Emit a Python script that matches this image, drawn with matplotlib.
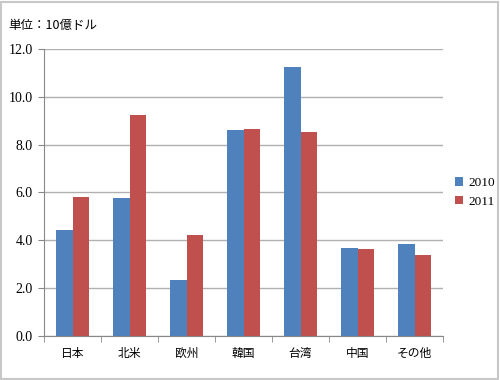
import matplotlib.pyplot as plt
import numpy as np

regions = ['日本', '北米', '欧州', '韓国', '台湾', '中国', 'その他']
v2010 = [4.43, 5.75, 2.33, 8.63, 11.25, 3.67, 3.84]
v2011 = [5.82, 9.26, 4.22, 8.66, 8.52, 3.64, 3.40]
yticks = [0, 2, 4, 6, 8, 10, 12]

jp = ['Noto Sans CJK JP', 'DejaVu Sans']
serif = ['Liberation Serif', 'DejaVu Serif']

fig = plt.figure(figsize=(5, 3.8), dpi=100)
ax = fig.add_axes([0.088, 0.116, 0.798, 0.755])

x = np.arange(len(regions))
w = 0.29
ax.bar(x - w / 2, v2010, w, color='#4f81bd', label='2010')
ax.bar(x + w / 2, v2011, w, color='#c0504d', label='2011')

ax.set_xlim(-0.5, len(regions) - 0.5)
ax.set_ylim(0, 12)
ax.set_yticks(yticks)
ax.set_yticklabels(['%.1f' % t for t in yticks], family=serif, fontsize=10)
ax.set_xticks(x)
ax.set_xticklabels(regions, family=jp, fontsize=8.5)
ax.set_xticks(np.arange(len(regions) + 1) - 0.5, minor=True)
ax.tick_params(axis='x', which='major', length=0, pad=8)
ax.tick_params(axis='x', which='minor', length=4, color='#888888')
ax.tick_params(axis='y', length=4, color='#888888', pad=4)
ax.grid(axis='y', color='#b0b0b0', linewidth=1)
ax.set_axisbelow(True)
for s in ['top', 'right']:
    ax.spines[s].set_visible(False)
ax.spines['left'].set_color('#888888')
ax.spines['bottom'].set_color('#888888')

leg = ax.legend(loc='center left', bbox_to_anchor=(1.0, 0.5), frameon=False,
                prop={'family': serif, 'size': 9.5}, handlelength=0.6,
                handleheight=0.6, handletextpad=0.4, labelspacing=0.5)

fig.text(0.016, 0.925, '単位：10億ドル', family=jp, fontsize=9)
fig.patches.append(plt.Rectangle((0.002, 0.003), 0.994, 0.993, transform=fig.transFigure,
                                 fill=False, edgecolor='#c8c8c8', linewidth=1.5))

fig.savefig('out.png')
